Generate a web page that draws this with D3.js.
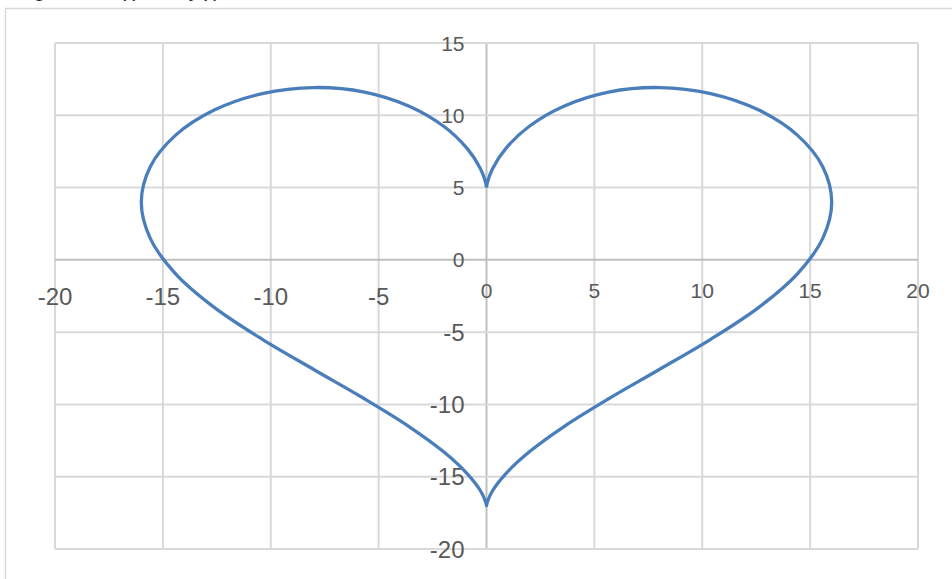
<!DOCTYPE html>
<html>
<head>
<meta charset="utf-8">
<script src="https://cdn.jsdelivr.net/npm/d3@7"></script>
<style>
  body { margin: 0; background: #fff; }
  svg { display: block; font-family: "Liberation Sans", Arial, sans-serif; }
</style>
</head>
<body>
<script>
// values (heart outline, clockwise from the top cusp)
var xValues = [0, 0.04, 0.28, 0.9, 2, 3.61, 5.66, 7.99, 10.39, 12.62, 14.42, 15.59, 16,
    15.59, 14.42, 12.62, 10.39, 7.99, 5.66, 3.61, 2, 0.9, 0.28, 0.04, 0,
    -0.04, -0.28, -0.9, -2, -3.61, -5.66, -7.99, -10.39, -12.62, -14.42, -15.59, -16,
    -15.59, -14.42, -12.62, -10.39, -7.99, -5.66, -3.61, -2, -0.9, -0.28, -0.04, 0];
var yValues = [5, 5.35, 6.31, 7.71, 9.26, 10.65, 11.61, 11.92, 11.5, 10.36, 8.61, 6.43, 4,
    1.5, -0.95, -3.29, -5.5, -7.6, -9.61, -11.51, -13.26, -14.78, -15.97, -16.74, -17,
    -16.74, -15.97, -14.78, -13.26, -11.51, -9.61, -7.6, -5.5, -3.29, -0.95, 1.5, 4,
    6.43, 8.61, 10.36, 11.5, 11.92, 11.61, 10.65, 9.26, 7.71, 6.31, 5.35, 5];
var xTicks = [-20, -15, -10, -5, 0, 5, 10, 15, 20];
var yTicks = [-20, -15, -10, -5, 0, 5, 10, 15];

var W = 952, H = 579;
var svg = d3.select("body").append("svg")
    .attr("width", W)
    .attr("height", H);

// chart frame (cut off on the right and at the bottom)
svg.append("rect")
    .attr("x", 5.5).attr("y", 8.5)
    .attr("width", 1000).attr("height", 700)
    .attr("fill", "none")
    .attr("stroke", "#d9d9d9")
    .attr("stroke-width", 1.5);

// title, almost fully above the top edge
svg.append("text")
    .attr("x", 15).attr("y", -4)
    .attr("font-size", 22)
    .attr("fill", "#222")
    .text("Figure 1: x(t) and y(t)");

var x = d3.scaleLinear().domain([-20, 20]).range([55, 918]);
var y = d3.scaleLinear().domain([-20, 15]).range([549, 43]);

// grid
svg.append("g").selectAll("line")
    .data(xTicks)
    .enter().append("line")
    .attr("x1", function(d) { return x(d); })
    .attr("x2", function(d) { return x(d); })
    .attr("y1", y(15)).attr("y2", y(-20))
    .attr("stroke", function(d) { return d === 0 ? "#bfbfbf" : "#d9d9d9"; })
    .attr("stroke-width", 2);

svg.append("g").selectAll("line")
    .data(yTicks)
    .enter().append("line")
    .attr("y1", function(d) { return y(d); })
    .attr("y2", function(d) { return y(d); })
    .attr("x1", x(-20)).attr("x2", x(20))
    .attr("stroke", function(d) { return d === 0 ? "#bfbfbf" : "#d9d9d9"; })
    .attr("stroke-width", 2);

// x axis labels under the y=0 line
svg.append("g").selectAll("text")
    .data(xTicks)
    .enter().append("text")
    .attr("x", function(d) { return x(d); })
    .attr("y", function(d) { return d < 0 ? y(0) + 45 : y(0) + 38; })
    .attr("text-anchor", "middle")
    .attr("font-size", function(d) { return d < 0 ? 24 : 21; })
    .attr("fill", "#595959")
    .text(function(d) { return d; });

// y axis labels left of the x=0 line
svg.append("g").selectAll("text")
    .data(yTicks)
    .enter().append("text")
    .attr("x", x(0) - 22)
    .attr("y", function(d) { return y(d); })
    .attr("dy", "0.36em")
    .attr("text-anchor", "end")
    .attr("font-size", function(d) { return d < 0 ? 24 : 21; })
    .attr("fill", "#595959")
    .text(function(d) { return d; });

// the curve
var pts = xValues.map(function(v, i) { return [v, yValues[i]]; });
var line = d3.line()
    .x(function(d) { return x(d[0]); })
    .y(function(d) { return y(d[1]); })
    .curve(d3.curveCatmullRom.alpha(0.5));

svg.append("path")
    .datum(pts)
    .attr("d", line)
    .attr("fill", "none")
    .attr("stroke", "#4a7ebb")
    .attr("stroke-width", 3.3)
    .attr("stroke-linejoin", "round");
</script>
</body>
</html>
